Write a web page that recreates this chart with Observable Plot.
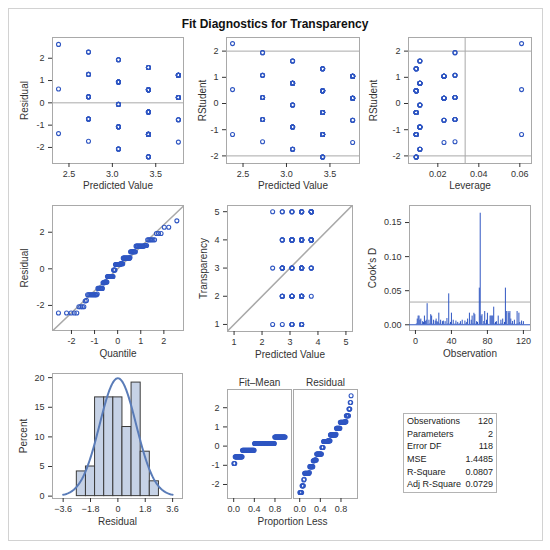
<!DOCTYPE html>
<html>
<head>
<meta charset="utf-8">
<script src="https://cdn.jsdelivr.net/npm/d3@7"></script>
<script src="https://cdn.jsdelivr.net/npm/@observablehq/plot@0.6"></script>
<style>
  body { margin: 0; background: white; font-family: "Liberation Sans", Arial, sans-serif; }
  #chart { position: relative; width: 550px; height: 550px; overflow: hidden; }
  #border { position: absolute; left: 8px; top: 8px; width: 533px; height: 531px; border: 1px solid #d2d2d2; }
  #title { position: absolute; left: 0; top: 17px; width: 550px; text-align: center; font-weight: bold; font-size: 12px; color: #111; }
  #stats { position: absolute; left: 403px; top: 413px; width: 86px; border: 1px solid #b4b4b4; padding: 1px 3px; font-size: 9px; color: #222; }
  #stats table { border-collapse: collapse; width: 100%; }
  #stats td { padding: 0; line-height: 12.65px; white-space: nowrap; }
  #stats td.v { text-align: right; }
</style>
</head>
<body>
<div id="chart">
  <div id="border"></div>
  <div id="title">Fit Diagnostics for Transparency</div>
  <div id="stats"><table></table></div>
</div>
<script>
// observations: predictor level (1..5) and Transparency, in observation order
const predictorLevel = [
  4,4,5,5,4,4,4,3,3,5, 5,4,2,5,4,4,3,5,2,4, 4,2,4,3,3,3,4,4,5,3, 2,4,3,3,1,4,1,2,3,3,
  4,4,5,4,2,4,3,2,4,3, 5,4,4,3,2,4,3,4,5,3, 4,4,5,4,2,3,2,3,3,4, 2,1,5,3,5,5,4,4,4,2,
  4,3,5,5,5,5,5,4,3,3, 5,5,4,2,4,4,4,4,3,2, 4,5,4,2,4,4,4,5,4,4, 3,2,4,4,3,3,5,2,5,3
];
const transparency = [
  4,5,5,5,2,5,3,2,4,5, 3,2,1,4,2,4,5,5,3,2, 3,2,5,2,4,1,4,2,4,2, 2,3,2,3,3,4,1,3,4,1,
  3,2,4,4,2,3,4,3,4,2, 4,2,3,3,2,4,4,5,4,1, 3,2,5,4,4,5,3,2,4,3, 5,5,5,5,4,3,1,4,2,4,
  3,3,5,5,5,5,2,4,4,2, 4,5,3,3,2,4,5,3,4,5, 1,4,1,4,1,5,4,3,3,2, 3,3,1,4,1,4,4,2,4,2
];
const binEdges = [-2.7, -2.1, -1.5, -0.9, -0.3, 0.3, 0.9, 1.5, 2.1, 2.7];
const statLabels = ["Observations", "Parameters", "Error DF", "MSE", "R-Square", "Adj R-Square"];
const statValues = ["120", "2", "118", "1.4485", "0.0807", "0.0729"];
const spreadPanels = ["Fit–Mean", "Residual"];

// simple linear regression + influence stats
const n = transparency.length;
const xbar = d3.mean(predictorLevel), ybar = d3.mean(transparency);
let sxx = 0, sxy = 0;
for (let i = 0; i < n; i++) {
  sxx += (predictorLevel[i] - xbar) ** 2;
  sxy += (predictorLevel[i] - xbar) * (transparency[i] - ybar);
}
const b1 = sxy / sxx, b0 = ybar - b1 * xbar;
const rows = predictorLevel.map((x, i) => {
  const pred = b0 + b1 * x;
  return {obs: i + 1, x, y: transparency[i], pred, resid: transparency[i] - pred,
          lev: 1 / n + (x - xbar) ** 2 / sxx};
});
const sse = d3.sum(rows, d => d.resid ** 2);
const mse = sse / (n - 2), s = Math.sqrt(mse);
rows.forEach(d => {
  const si2 = (sse - d.resid ** 2 / (1 - d.lev)) / (n - 3);
  d.rstud = d.resid / Math.sqrt(si2 * (1 - d.lev));
  d.cook = d.resid ** 2 / (2 * mse) * d.lev / (1 - d.lev) ** 2;
});

// inverse normal (Acklam)
function qnorm(p) {
  const a = [-39.69683028665376, 220.9460984245205, -275.9285104469687, 138.3577518672690, -30.66479806614716, 2.506628277459239];
  const b = [-54.47609879822406, 161.5858368580409, -155.6989798598866, 66.80131188771972, -13.28068155288572];
  const c = [-0.007784894002430293, -0.3223964580411365, -2.400758277161838, -2.549732539343734, 4.374664141464968, 2.938163982698783];
  const d = [0.007784695709041462, 0.3224671290700398, 2.445134137142996, 3.754408661907416];
  const lo = 0.02425;
  if (p < lo || p > 1 - lo) {
    const q = Math.sqrt(-2 * Math.log(p < lo ? p : 1 - p));
    const v = (((((c[0]*q+c[1])*q+c[2])*q+c[3])*q+c[4])*q+c[5]) / ((((d[0]*q+d[1])*q+d[2])*q+d[3])*q+1);
    return p < lo ? v : -v;
  }
  const q = p - 0.5, r = q * q;
  return (((((a[0]*r+a[1])*r+a[2])*r+a[3])*r+a[4])*r+a[5])*q / (((((b[0]*r+b[1])*r+b[2])*r+b[3])*r+b[4])*r+1);
}
const qq = rows.map(d => d.resid).sort(d3.ascending)
  .map((r, i) => ({q: qnorm((i + 1 - 0.375) / (n + 0.25)), r}));

const fitMean = rows.map(d => d.pred - ybar).sort(d3.ascending);
const residSorted = rows.map(d => d.resid).sort(d3.ascending);
const spread = [
  ...fitMean.map((v, i) => ({panel: spreadPanels[0], p: (i + 0.5) / n, v})),
  ...residSorted.map((v, i) => ({panel: spreadPanels[1], p: (i + 0.5) / n, v}))
];

const bins = d3.bin().domain([binEdges[0], binEdges[binEdges.length - 1]]).thresholds(binEdges)(rows.map(d => d.resid));
const binW = binEdges[1] - binEdges[0];
const curve = d3.range(-3.6, 3.6001, 0.05).map(x => ({x, y: 100 * binW * Math.exp(-0.5 * (x / s) ** 2) / (s * Math.sqrt(2 * Math.PI))}));

// styling
const blue = "#2f56c2";
const gray = "#a9a9a9";
const baseStyle = {fontFamily: "'Liberation Sans', Arial, sans-serif", fontSize: "9px", color: "#333", background: "transparent", overflow: "visible"};
const chart = document.getElementById("chart");
const f1 = d3.format(".1f"), f2 = d3.format(".2f"), fi = d => String(d);

function panel(fx, fy, fw, fh, opts, mt = 8) {
  const ml = 45, mr = 8, mb = 36;
  const svg = Plot.plot({
    width: ml + fw + mr, height: mt + fh + mb,
    marginLeft: ml, marginRight: mr, marginTop: mt, marginBottom: mb,
    style: baseStyle, ...opts
  });
  svg.style.position = "absolute";
  svg.style.left = (fx - ml) + "px";
  svg.style.top = (fy - mt) + "px";
  chart.append(svg);
}
const xAx = (ticks, tickFormat = fi) => Plot.axisX({ticks, tickFormat, tickSize: 4, tickPadding: 3, label: null});
const yAx = (ticks, tickFormat = fi) => Plot.axisY({ticks, tickFormat, tickSize: 4, tickPadding: 4, label: null});
const xTitle = (t, dy = 25) => Plot.text([t], {text: d => d, frameAnchor: "bottom", dy, fontSize: 10, textAnchor: "middle"});
const yTitle = (t, dx) => Plot.text([t], {text: d => d, frameAnchor: "left", dx, rotate: -90, fontSize: 10, textAnchor: "middle"});
const dots = (data, x, y) => Plot.dot(data, {x, y, r: 2, stroke: blue, strokeWidth: 1.1});

// residual vs predicted
panel(52, 37, 131, 126, {
  x: {domain: [2.31, 3.82]}, y: {domain: [-2.72, 2.93]},
  marks: [
    Plot.frame({stroke: gray}),
    Plot.ruleY([0], {stroke: gray}),
    dots(rows, "pred", "resid"),
    xAx([2.5, 3, 3.5], f1), yAx([-2, -1, 0, 1, 2]),
    xTitle("Predicted Value"), yTitle("Residual", -28)
  ]
});

// rstudent vs predicted
panel(226, 37, 133, 126, {
  x: {domain: [2.31, 3.84]}, y: {domain: [-2.29, 2.52]},
  marks: [
    Plot.frame({stroke: gray}),
    Plot.ruleY([-2, 2], {stroke: gray}),
    dots(rows, "pred", "rstud"),
    xAx([2.5, 3, 3.5], f1), yAx([-2, -1, 0, 1, 2]),
    xTitle("Predicted Value"), yTitle("RStudent", -24)
  ]
});

// rstudent vs leverage
panel(408, 37, 123, 126, {
  x: {domain: [0.0057, 0.0657]}, y: {domain: [-2.29, 2.52]},
  marks: [
    Plot.frame({stroke: gray}),
    Plot.ruleY([-2, 2], {stroke: gray}),
    Plot.ruleX([2 * 2 / n], {stroke: gray}),
    dots(rows, "lev", "rstud"),
    xAx([0.02, 0.04, 0.06], f2), yAx([-2, -1, 0, 1, 2]),
    xTitle("Leverage"), yTitle("RStudent", -35)
  ]
});

// normal quantile plot
panel(52, 205, 131, 125, {
  x: {domain: [-2.82, 2.85]}, y: {domain: [-3.37, 3.46]},
  marks: [
    Plot.frame({stroke: gray}),
    Plot.line([-2.82, 2.85].map(q => ({q, r: s * q})), {x: "q", y: "r", stroke: gray, clip: true}),
    dots(qq, "q", "r"),
    xAx([-2, -1, 0, 1, 2]), yAx([-2, 0, 2]),
    xTitle("Quantile", 26), yTitle("Residual", -28)
  ]
});

// observed vs predicted
panel(227, 205, 125, 126, {
  x: {domain: [0.765, 5.235]}, y: {domain: [0.75, 5.22]},
  marks: [
    Plot.frame({stroke: gray}),
    Plot.line([0.765, 5.235].map(v => ({v})), {x: "v", y: "v", stroke: gray, clip: true}),
    dots(rows, "pred", "y"),
    xAx([1, 2, 3, 4, 5]), yAx([1, 2, 3, 4, 5]),
    xTitle("Predicted Value", 26), yTitle("Transparency", -24)
  ]
});

// cook's D
panel(409, 205, 121, 125, {
  x: {domain: [-6.6, 127.9]}, y: {domain: [-0.0084, 0.175]},
  marks: [
    Plot.frame({stroke: gray}),
    Plot.ruleY([4 / n], {stroke: gray}),
    Plot.ruleX(rows, {x: "obs", y1: 0, y2: "cook", stroke: blue, strokeWidth: 1}),
    Plot.ruleY([0], {stroke: blue}),
    xAx([0, 40, 80, 120]), yAx([0, 0.05, 0.1, 0.15], f2),
    xTitle("Observation", 26), yTitle("Cook's D", -37)
  ]
});

// residual histogram
panel(52, 373, 130, 125, {
  x: {domain: [-4.3, 4.25]}, y: {domain: [-0.4, 20.7]},
  marks: [
    Plot.frame({stroke: gray}),
    Plot.rectY(bins, {x1: b => b.x0, x2: b => b.x1, y: b => b.length / n * 100, fill: "#c6d2e6", stroke: "#3a3a3a", strokeWidth: 1}),
    Plot.line(curve, {x: "x", y: "y", stroke: "#5a7cb8", strokeWidth: 2}),
    xAx([-3.6, -1.8, 0, 1.8, 3.6], d => d === 0 ? "0" : f1(d)), yAx([0, 5, 10, 15, 20]),
    xTitle("Residual", 26), yTitle("Percent", -29)
  ]
});

// residual-fit spread
panel(227, 389, 131, 109, {
  facet: {data: spread, x: "panel"},
  fx: {domain: spreadPanels, paddingInner: 0.03, paddingOuter: 0, axis: null},
  x: {domain: [-0.12, 1.12]}, y: {domain: [-2.73, 2.95]},
  marks: [
    Plot.frame({stroke: gray}),
    dots(spread, "p", "v"),
    xAx([0, 0.4, 0.8], f1), yAx([-2, -1, 0, 1, 2]),
    Plot.text(spread, Plot.selectFirst({text: "panel", frameAnchor: "top", dy: -11, fontSize: 10, textAnchor: "middle"})),
    Plot.text(spread, Plot.selectFirst({text: d => d.panel === spreadPanels[0] ? "Proportion Less" : null,
      frameAnchor: "bottom-right", dx: 1, dy: 26, fontSize: 10, textAnchor: "middle"}))
  ]
}, 22);

// fit statistics table
d3.select("#stats table").selectAll("tr").data(statLabels).join("tr")
  .html((d, i) => `<td>${d}</td><td class="v">${statValues[i]}</td>`);
</script>
</body>
</html>
